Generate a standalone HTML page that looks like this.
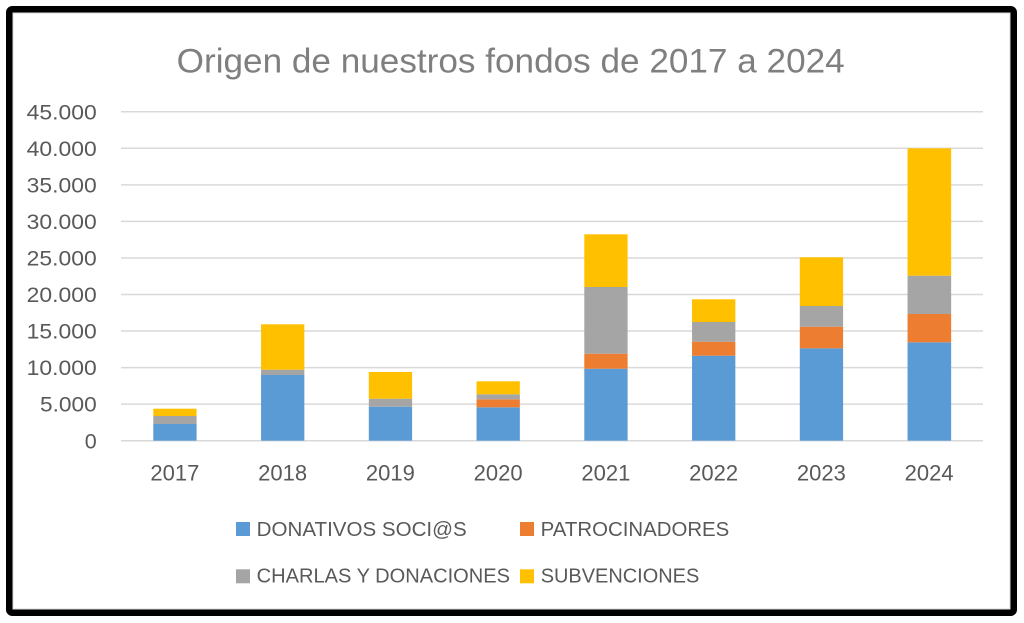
<!DOCTYPE html>
<html>
<head>
<meta charset="utf-8">
<style>
  html, body { margin:0; padding:0; background:#fff; }
  body { width:1024px; height:623px; overflow:hidden; }
  svg { display:block; }
  text { font-family: "Liberation Sans", "DejaVu Sans", sans-serif; }
</style>
</head>
<body>
<svg width="1024" height="623" viewBox="0 0 1024 623" xmlns="http://www.w3.org/2000/svg">
  <rect x="0" y="0" width="1024" height="623" fill="#ffffff"/>
  <!-- frame -->
  <rect x="13" y="13" width="997" height="596" fill="none" stroke="#d9d9d9" stroke-width="1"/>
  <rect x="9.25" y="9.25" width="1004.5" height="603.5" rx="3" fill="none" stroke="#000" stroke-width="6.5"/>

  <!-- title -->
  <text x="176.7" y="72.7" font-size="34" fill="#7f7f7f" textLength="668" lengthAdjust="spacingAndGlyphs">Origen de nuestros fondos de 2017 a 2024</text>

  <!-- gridlines -->
  <g stroke="#d9d9d9" stroke-width="1.5">
    <line x1="121" x2="983" y1="111.75" y2="111.75"/>
    <line x1="121" x2="983" y1="148.3" y2="148.3"/>
    <line x1="121" x2="983" y1="184.85" y2="184.85"/>
    <line x1="121" x2="983" y1="221.4" y2="221.4"/>
    <line x1="121" x2="983" y1="257.95" y2="257.95"/>
    <line x1="121" x2="983" y1="294.5" y2="294.5"/>
    <line x1="121" x2="983" y1="331.05" y2="331.05"/>
    <line x1="121" x2="983" y1="367.6" y2="367.6"/>
    <line x1="121" x2="983" y1="404.15" y2="404.15"/>
    <line x1="121" x2="983" y1="440.7" y2="440.7"/>
  </g>

  <!-- y labels -->
  <g font-size="21.5" fill="#595959" text-anchor="end">
    <text x="96.7" y="119.5" textLength="70" lengthAdjust="spacingAndGlyphs">45.000</text>
    <text x="96.7" y="156" textLength="70" lengthAdjust="spacingAndGlyphs">40.000</text>
    <text x="96.7" y="192.5" textLength="70" lengthAdjust="spacingAndGlyphs">35.000</text>
    <text x="96.7" y="229" textLength="70" lengthAdjust="spacingAndGlyphs">30.000</text>
    <text x="96.7" y="265.5" textLength="70" lengthAdjust="spacingAndGlyphs">25.000</text>
    <text x="96.7" y="302" textLength="70" lengthAdjust="spacingAndGlyphs">20.000</text>
    <text x="96.7" y="338.5" textLength="70" lengthAdjust="spacingAndGlyphs">15.000</text>
    <text x="96.7" y="375" textLength="70" lengthAdjust="spacingAndGlyphs">10.000</text>
    <text x="96.7" y="411.7" textLength="56.7" lengthAdjust="spacingAndGlyphs">5.000</text>
    <text x="96.7" y="448.3">0</text>
  </g>

  <!-- bars -->
  <!-- 2017 -->
  <g>
    <rect x="153.3" y="424" width="43.3" height="16.7" fill="#5B9BD5"/>
    <rect x="153.3" y="416" width="43.3" height="8" fill="#A5A5A5"/>
    <rect x="153.3" y="408.7" width="43.3" height="7.3" fill="#FFC000"/>
  </g>
  <!-- 2018 -->
  <g>
    <rect x="261.05" y="375" width="43.3" height="65.7" fill="#5B9BD5"/>
    <rect x="261.05" y="369.7" width="43.3" height="5.3" fill="#A5A5A5"/>
    <rect x="261.05" y="324.3" width="43.3" height="45.4" fill="#FFC000"/>
  </g>
  <!-- 2019 -->
  <g>
    <rect x="368.8" y="406.7" width="43.3" height="34" fill="#5B9BD5"/>
    <rect x="368.8" y="398.7" width="43.3" height="8" fill="#A5A5A5"/>
    <rect x="368.8" y="372" width="43.3" height="26.7" fill="#FFC000"/>
  </g>
  <!-- 2020 -->
  <g>
    <rect x="476.55" y="407.3" width="43.3" height="33.4" fill="#5B9BD5"/>
    <rect x="476.55" y="399.3" width="43.3" height="8" fill="#ED7D31"/>
    <rect x="476.55" y="394.3" width="43.3" height="5" fill="#A5A5A5"/>
    <rect x="476.55" y="381.3" width="43.3" height="13" fill="#FFC000"/>
  </g>
  <!-- 2021 -->
  <g>
    <rect x="584.3" y="368.7" width="43.3" height="72" fill="#5B9BD5"/>
    <rect x="584.3" y="353.7" width="43.3" height="15" fill="#ED7D31"/>
    <rect x="584.3" y="287" width="43.3" height="66.7" fill="#A5A5A5"/>
    <rect x="584.3" y="234.3" width="43.3" height="52.7" fill="#FFC000"/>
  </g>
  <!-- 2022 -->
  <g>
    <rect x="692.05" y="355.7" width="43.3" height="85" fill="#5B9BD5"/>
    <rect x="692.05" y="341.7" width="43.3" height="14" fill="#ED7D31"/>
    <rect x="692.05" y="322" width="43.3" height="19.7" fill="#A5A5A5"/>
    <rect x="692.05" y="299.3" width="43.3" height="22.7" fill="#FFC000"/>
  </g>
  <!-- 2023 -->
  <g>
    <rect x="799.8" y="348.3" width="43.3" height="92.4" fill="#5B9BD5"/>
    <rect x="799.8" y="326.7" width="43.3" height="21.6" fill="#ED7D31"/>
    <rect x="799.8" y="306" width="43.3" height="20.7" fill="#A5A5A5"/>
    <rect x="799.8" y="257.3" width="43.3" height="48.7" fill="#FFC000"/>
  </g>
  <!-- 2024 -->
  <g>
    <rect x="907.55" y="342.3" width="43.6" height="98.4" fill="#5B9BD5"/>
    <rect x="907.55" y="314" width="43.6" height="28.3" fill="#ED7D31"/>
    <rect x="907.55" y="275.7" width="43.6" height="38.3" fill="#A5A5A5"/>
    <rect x="907.55" y="148.3" width="43.6" height="127.4" fill="#FFC000"/>
  </g>

  <!-- x labels -->
  <g font-size="22" fill="#595959" text-anchor="middle">
    <text x="174.9" y="480.7">2017</text>
    <text x="282.65" y="480.7">2018</text>
    <text x="390.4" y="480.7">2019</text>
    <text x="498.15" y="480.7">2020</text>
    <text x="605.9" y="480.7">2021</text>
    <text x="713.65" y="480.7">2022</text>
    <text x="821.4" y="480.7">2023</text>
    <text x="929.15" y="480.7">2024</text>
  </g>

  <!-- legend -->
  <rect x="236" y="522" width="14" height="14" fill="#5B9BD5"/>
  <text x="256.7" y="536" font-size="20" fill="#595959" textLength="210" lengthAdjust="spacingAndGlyphs">DONATIVOS SOCI@S</text>
  <rect x="520" y="522" width="14" height="14" fill="#ED7D31"/>
  <text x="540.7" y="536" font-size="20" fill="#595959" textLength="188.6" lengthAdjust="spacingAndGlyphs">PATROCINADORES</text>
  <rect x="236" y="569.3" width="14" height="14" fill="#A5A5A5"/>
  <text x="256.7" y="582.7" font-size="20" fill="#595959" textLength="253.3" lengthAdjust="spacingAndGlyphs">CHARLAS Y DONACIONES</text>
  <rect x="520" y="569.3" width="14" height="14" fill="#FFC000"/>
  <text x="540.7" y="582.7" font-size="20" fill="#595959" textLength="158.6" lengthAdjust="spacingAndGlyphs">SUBVENCIONES</text>
</svg>
</body>
</html>
